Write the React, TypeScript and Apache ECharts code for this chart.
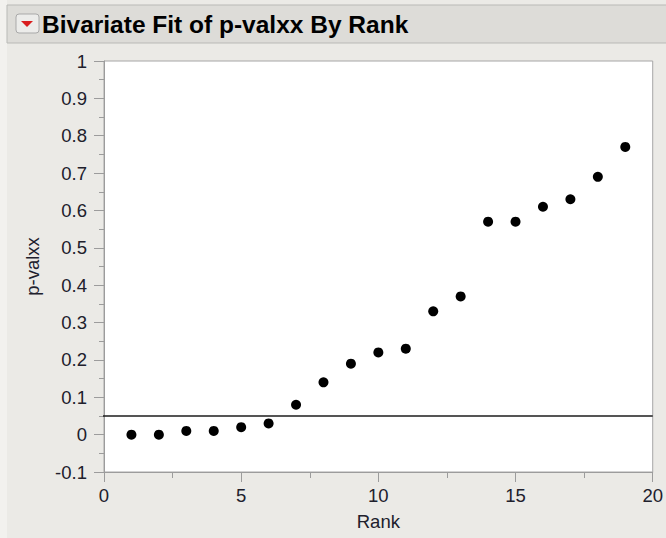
import React, { useEffect, useRef } from "react";
import * as echarts from "echarts";

const ranks = [1, 2, 3, 4, 5, 6, 7, 8, 9, 10, 11, 12, 13, 14, 15, 16, 17, 18, 19];
const pValues = [0.0, 0.0, 0.01, 0.01, 0.02, 0.03, 0.08, 0.14, 0.19, 0.22, 0.23, 0.33, 0.37, 0.57, 0.57, 0.61, 0.63, 0.69, 0.77];
const refLevel = 0.05;
const xMin = 0;
const xMax = 20;
const xInterval = 5;
const yMin = -0.1;
const yMax = 1;
const yInterval = 0.1;
const titleText = "Bivariate Fit of p-valxx By Rank";
const xName = "Rank";
const yName = "p-valxx";

const FONT = "'Liberation Sans', Arial, sans-serif";
const LABEL_COLOR = "#20202c";
const AXIS_COLOR = "#9c9c9c";

export default function App() {
  const ref = useRef<HTMLDivElement>(null);

  useEffect(() => {
    if (!ref.current) return;
    const chart = echarts.init(ref.current, null, { renderer: "svg" });
    const points = ranks.map((r, i) => [r, pValues[i]]);
    const option: any = {
      animation: false,
      backgroundColor: "#ebeae6",
      grid: {
        left: 104,
        top: 61,
        width: 549,
        height: 411,
        show: true,
        backgroundColor: "#ffffff",
        borderColor: "#a6a6a6",
        borderWidth: 1,
        containLabel: false,
      },
      xAxis: {
        type: "value",
        min: xMin,
        max: xMax,
        interval: xInterval,
        name: xName,
        nameLocation: "middle",
        nameGap: 40,
        nameTextStyle: { fontFamily: FONT, fontSize: 18.5, color: LABEL_COLOR },
        axisLine: { show: true, onZero: false, lineStyle: { color: AXIS_COLOR, width: 1 } },
        axisTick: { show: true, inside: false, length: 10, lineStyle: { color: AXIS_COLOR } },
        minorTick: { show: true, splitNumber: 2, length: 6, lineStyle: { color: AXIS_COLOR } },
        splitLine: { show: false },
        axisLabel: { fontFamily: FONT, fontSize: 18.5, color: LABEL_COLOR, margin: 14 },
      },
      yAxis: {
        type: "value",
        min: yMin,
        max: yMax,
        interval: yInterval,
        name: yName,
        nameLocation: "middle",
        nameGap: 62,
        nameTextStyle: { fontFamily: FONT, fontSize: 18.5, color: LABEL_COLOR },
        axisLine: { show: true, onZero: false, lineStyle: { color: AXIS_COLOR, width: 1 } },
        axisTick: { show: true, inside: false, length: 10, lineStyle: { color: AXIS_COLOR } },
        minorTick: { show: true, splitNumber: 2, length: 5, lineStyle: { color: AXIS_COLOR } },
        splitLine: { show: false },
        axisLabel: {
          fontFamily: FONT,
          fontSize: 18.5,
          color: LABEL_COLOR,
          margin: 17,
          formatter: (v: number) => String(Math.round(v * 10) / 10),
        },
      },
      series: [
        {
          type: "line",
          data: [
            [xMin - 0.35, refLevel],
            [xMax, refLevel],
          ],
          clip: false,
          showSymbol: false,
          symbol: "none",
          silent: true,
          lineStyle: { color: "#1c1c1c", width: 1.6 },
          z: 2,
        },
        {
          type: "scatter",
          data: points,
          symbol: "circle",
          symbolSize: 10,
          itemStyle: { color: "#000000", opacity: 1 },
          z: 3,
        },
      ],
      graphic: [
        {
          type: "rect",
          shape: { x: 0, y: 0, width: 7, height: 538 },
          style: { fill: "#f2f1ee" },
          silent: true,
        },
        {
          type: "rect",
          shape: { x: 7, y: 5, width: 670, height: 38 },
          style: { fill: "#dddcd8", stroke: "#b9b9b6", lineWidth: 1 },
          silent: true,
        },
        {
          type: "rect",
          shape: { x: 16, y: 14, width: 23, height: 19, r: 3 },
          style: { fill: "#ececea", stroke: "#a9a9a9", lineWidth: 1 },
          silent: true,
        },
        {
          type: "polygon",
          shape: { points: [[21, 21], [33, 21], [27, 27]] },
          style: { fill: "#d91e1e" },
          silent: true,
        },
        {
          type: "text",
          x: 42,
          y: 24,
          style: {
            text: titleText,
            font: `bold 24.5px ${FONT}`,
            fill: "#000000",
            textVerticalAlign: "middle",
            verticalAlign: "middle",
          },
          silent: true,
        },
      ],
    };
    chart.setOption(option);
    return () => chart.dispose();
  }, []);

  return (
    <div
      ref={ref}
      style={{ position: "absolute", left: 0, top: 0, width: 666, height: 538 }}
    />
  );
}
